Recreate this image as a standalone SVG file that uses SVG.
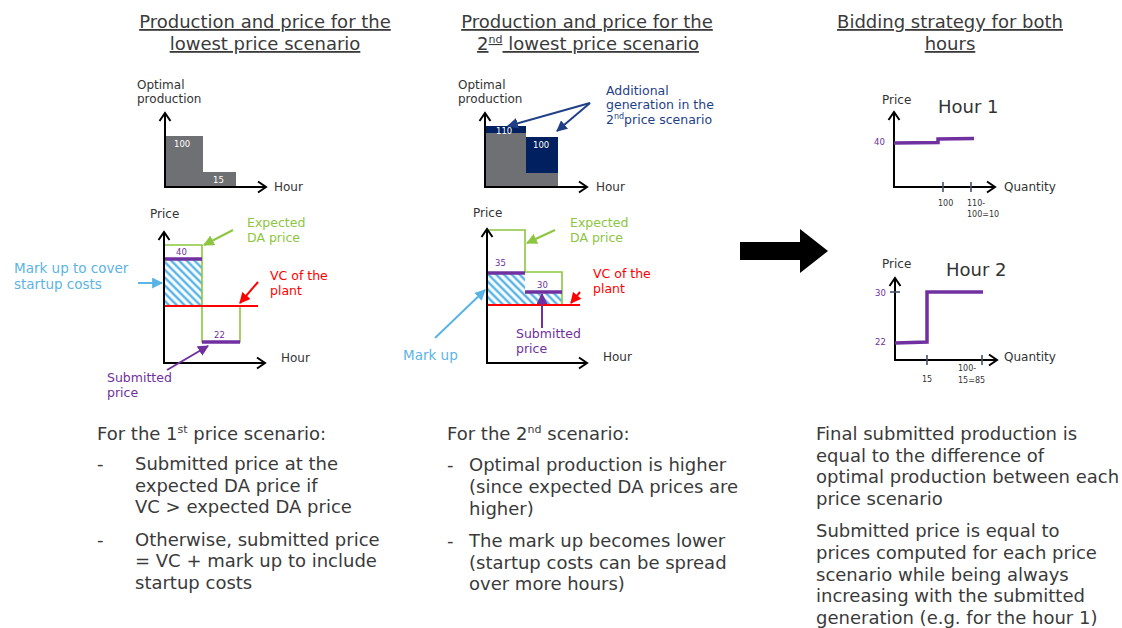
<svg xmlns="http://www.w3.org/2000/svg" width="1122" height="628" viewBox="0 0 1122 628">
<style>
text{font-family:"DejaVu Sans",Verdana,sans-serif}
.title{font-size:18px;fill:#3a3a3a;text-decoration:underline;text-anchor:middle}
.body{font-size:18px;fill:#3a3a3a}
.ax{font-size:12px;fill:#333}
.num{font-size:8.5px;fill:#fff}
.pnum{font-size:8.5px;fill:#7030a0}
.qnum{font-size:8px;fill:#333}
.hour{font-size:18px;fill:#333}
.axis{stroke:#000;stroke-width:2;fill:none;marker-end:url(#chev)}
.green{stroke:#8cc63f;stroke-width:1.6;fill:none}
.red{stroke:#ff0000;stroke-width:2;fill:none}
.purple{stroke:#7030a0;stroke-width:3.5;fill:none}
.tick{stroke:#44546a;stroke-width:1.6}
.gray{fill:#6f7073}
.navy{fill:#002060}
.c-green{stroke:#8cc63f;stroke-width:2;fill:none;marker-end:url(#ah-green)}
.c-red{stroke:#ff0000;stroke-width:2;fill:none;marker-end:url(#ah-red)}
.c-blue{stroke:#5bb4e6;stroke-width:2;fill:none;marker-end:url(#ah-blue)}
.c-purple{stroke:#7030a0;stroke-width:2;fill:none;marker-end:url(#ah-purple)}
.c-navy{stroke:#1f3f87;stroke-width:2;fill:none;marker-end:url(#ah-navy)}
.t-green{font-size:12.5px;fill:#8cc63f}
.t-red{font-size:12.5px;fill:#ff0000}
.t-blue{font-size:13.5px;fill:#5bb4e6}
.t-purple{font-size:12.5px;fill:#7030a0}
.t-navy{font-size:12.5px;fill:#1f3f87}
</style>
<defs>
<pattern id="hatch" patternUnits="userSpaceOnUse" width="5.5" height="5.5" patternTransform="rotate(45)">
<rect width="5.5" height="5.5" fill="#fff"/>
<line x1="0" y1="2.75" x2="5.5" y2="2.75" stroke="#5bb4e6" stroke-width="2.5"/>
</pattern>
<marker id="chev" viewBox="-10 -7 12 14" refX="0" refY="0" markerWidth="12" markerHeight="14" markerUnits="userSpaceOnUse" orient="auto">
<path d="M-8,-5.5 L0,0 L-8,5.5" fill="none" stroke="#000" stroke-width="2"/>
</marker>
<marker id="ah-green" viewBox="0 0 10 10" refX="9" refY="5" markerWidth="11" markerHeight="11" markerUnits="userSpaceOnUse" orient="auto"><path d="M0,0 L10,5 L0,10 z" fill="#8cc63f"/></marker>
<marker id="ah-red" viewBox="0 0 10 10" refX="9" refY="5" markerWidth="11" markerHeight="11" markerUnits="userSpaceOnUse" orient="auto"><path d="M0,0 L10,5 L0,10 z" fill="#ff0000"/></marker>
<marker id="ah-blue" viewBox="0 0 10 10" refX="9" refY="5" markerWidth="11" markerHeight="11" markerUnits="userSpaceOnUse" orient="auto"><path d="M0,0 L10,5 L0,10 z" fill="#5bb4e6"/></marker>
<marker id="ah-purple" viewBox="0 0 10 10" refX="9" refY="5" markerWidth="11" markerHeight="11" markerUnits="userSpaceOnUse" orient="auto"><path d="M0,0 L10,5 L0,10 z" fill="#7030a0"/></marker>
<marker id="ah-navy" viewBox="0 0 10 10" refX="9" refY="5" markerWidth="11" markerHeight="11" markerUnits="userSpaceOnUse" orient="auto"><path d="M0,0 L10,5 L0,10 z" fill="#1f3f87"/></marker>
</defs>
<rect width="1122" height="628" fill="#fff"/>

<g id="title-left">
<text class="title" x="265" y="28">Production and price for the</text>
<text class="title" x="265" y="50">lowest price scenario</text>
</g>
<g id="title-middle">
<text class="title" x="587" y="28">Production and price for the</text>
<text class="title" x="588" y="50">2<tspan font-size="11" dy="-7">nd</tspan><tspan dy="7"> lowest price scenario</tspan></text>
</g>
<g id="title-right">
<text class="title" x="950" y="28">Bidding strategy for both</text>
<text class="title" x="950" y="50">hours</text>
</g>

<g id="left-production-chart">
<rect class="gray" x="165" y="136" width="38" height="51"/>
<rect class="gray" x="203" y="172" width="33" height="15"/>
<text class="num" x="174" y="147">100</text>
<text class="num" x="213" y="183">15</text>
<path class="axis" d="M165,188 V113"/>
<path class="axis" d="M164,187 H266"/>
<text class="ax" x="137" y="89">Optimal</text>
<text class="ax" x="137" y="103">production</text>
<text class="ax" x="274" y="191">Hour</text>
</g>

<g id="left-price-chart">
<rect x="165" y="259" width="37" height="47" fill="url(#hatch)"/>
<polyline class="green" points="165,245 202,245 202,342 240,342 240,306"/>
<line class="red" x1="165" y1="306" x2="258" y2="306"/>
<line class="purple" x1="165" y1="259" x2="202" y2="259"/>
<line class="purple" x1="202" y1="342" x2="240" y2="342"/>
<text class="pnum" x="176" y="255">40</text>
<text class="pnum" x="214" y="338">22</text>
<path class="axis" d="M164,364 V232"/>
<path class="axis" d="M163,363 H265"/>
<text class="ax" x="150" y="218">Price</text>
<text class="ax" x="281" y="362">Hour</text>
</g>
<g id="label-expected-da-left">
<text class="t-green" x="247" y="227">Expected</text>
<text class="t-green" x="247" y="242">DA price</text>
</g>
<g id="label-vc-left">
<text class="t-red" x="270" y="280">VC of the</text>
<text class="t-red" x="270" y="295">plant</text>
</g>
<g id="label-markup-left">
<text class="t-blue" x="14" y="273">Mark up to cover</text>
<text class="t-blue" x="14" y="289">startup costs</text>
</g>
<g id="label-submitted-left">
<text class="t-purple" x="107" y="382">Submitted</text>
<text class="t-purple" x="107" y="397">price</text>
</g>

<g id="middle-production-chart">
<rect class="gray" x="486" y="133" width="40" height="54"/>
<rect class="navy" x="486" y="126" width="40" height="7"/>
<rect class="navy" x="526" y="137" width="32" height="36"/>
<rect class="gray" x="526" y="173" width="32" height="14"/>
<text class="num" x="496" y="134">110</text>
<text class="num" x="533" y="148">100</text>
<path class="axis" d="M485,188 V113"/>
<path class="axis" d="M484,187 H587"/>
<text class="ax" x="458" y="89">Optimal</text>
<text class="ax" x="458" y="103">production</text>
<text class="ax" x="596" y="191">Hour</text>
</g>
<g id="label-additional">
<text class="t-navy" x="606" y="95">Additional</text>
<text class="t-navy" x="606" y="109">generation in  the</text>
<text class="t-navy" x="606" y="124">2<tspan font-size="8" dy="-5">nd</tspan><tspan dy="5">price scenario</tspan></text>
</g>

<g id="middle-price-chart">
<path d="M487,273 H525 V292 H562 V305 H487 Z" fill="url(#hatch)"/>
<polyline class="green" points="487,230 525,230 525,272 562,272 562,306"/>
<line class="red" x1="487" y1="305" x2="580" y2="305"/>
<line class="purple" x1="487" y1="273" x2="525" y2="273"/>
<line class="purple" x1="525" y1="292" x2="562" y2="292"/>
<text class="pnum" x="495" y="266">35</text>
<text class="pnum" x="537" y="288">30</text>
<path class="axis" d="M487,364 V229"/>
<path class="axis" d="M486,363 H587"/>
<text class="ax" x="473" y="217">Price</text>
<text class="ax" x="603" y="361">Hour</text>
</g>
<g id="label-expected-da-middle">
<text class="t-green" x="570" y="227">Expected</text>
<text class="t-green" x="570" y="242">DA price</text>
</g>
<g id="label-vc-middle">
<text class="t-red" x="593" y="278">VC of the</text>
<text class="t-red" x="593" y="293">plant</text>
</g>
<g id="label-submitted-middle">
<text class="t-purple" x="516" y="338">Submitted</text>
<text class="t-purple" x="516" y="353">price</text>
</g>
<g id="label-markup-middle">
<text class="t-blue" x="403" y="360">Mark up</text>
</g>

<g id="big-arrow">
<polygon points="740,242 800,242 800,229 828,251 800,273 800,260 740,260" fill="#000"/>
</g>

<g id="hour1-chart">
<text class="ax" x="882" y="104">Price</text>
<text class="hour" x="938" y="113">Hour 1</text>
<path class="axis" d="M894,188 V112"/>
<path class="axis" d="M893,187 H995"/>
<line class="tick" x1="943" y1="182" x2="943" y2="192"/>
<line class="tick" x1="971" y1="182" x2="971" y2="192"/>
<polyline class="purple" points="894,143 938,142.5 938,139 974,138.5"/>
<text class="pnum" x="874" y="145">40</text>
<text class="ax" x="1004" y="191">Quantity</text>
<text class="qnum" x="938" y="206">100</text>
<text class="qnum" x="967" y="206">110-</text>
<text class="qnum" x="967" y="217">100=10</text>
</g>

<g id="hour2-chart">
<text class="ax" x="882" y="268">Price</text>
<text class="hour" x="946" y="276">Hour 2</text>
<path class="axis" d="M895,361 V278"/>
<path class="axis" d="M894,360 H997"/>
<line class="tick" x1="890" y1="292" x2="900" y2="292"/>
<line class="tick" x1="927" y1="355" x2="927" y2="365"/>
<line class="tick" x1="982" y1="355" x2="982" y2="365"/>
<polyline class="purple" points="895,343 927,342 927,292 983,292"/>
<text class="pnum" x="875" y="296">30</text>
<text class="pnum" x="875" y="345">22</text>
<text class="ax" x="1004" y="361">Quantity</text>
<text class="qnum" x="922" y="382">15</text>
<text class="qnum" x="958" y="371">100-</text>
<text class="qnum" x="958" y="383">15=85</text>
</g>

<g id="text-left">
<text class="body" x="97" y="440">For the 1<tspan font-size="11" dy="-7">st</tspan><tspan dy="7"> price scenario:</tspan></text>
<text class="body" x="97" y="470">-</text>
<text class="body" x="135" y="470">Submitted price at the</text>
<text class="body" x="135" y="492">expected DA price if</text>
<text class="body" x="135" y="513">VC &gt; expected DA price</text>
<text class="body" x="97" y="546">-</text>
<text class="body" x="135" y="546">Otherwise, submitted price</text>
<text class="body" x="135" y="567">= VC + mark up to include</text>
<text class="body" x="135" y="589">startup costs</text>
</g>

<g id="text-middle">
<text class="body" x="447" y="440">For the 2<tspan font-size="11" dy="-7">nd</tspan><tspan dy="7"> scenario:</tspan></text>
<text class="body" x="447" y="471">-</text>
<text class="body" x="469" y="471">Optimal production is higher</text>
<text class="body" x="469" y="493">(since expected DA prices are</text>
<text class="body" x="469" y="515">higher)</text>
<text class="body" x="447" y="547">-</text>
<text class="body" x="469" y="547">The mark up becomes lower</text>
<text class="body" x="469" y="569">(startup costs can be spread</text>
<text class="body" x="469" y="590">over more hours)</text>
</g>

<g id="text-right">
<text class="body" x="816" y="440">Final submitted production is</text>
<text class="body" x="816" y="462">equal to the difference of</text>
<text class="body" x="816" y="483">optimal production between each</text>
<text class="body" x="816" y="505">price scenario</text>
<text class="body" x="816" y="537">Submitted price is equal to</text>
<text class="body" x="816" y="559">prices computed for each price</text>
<text class="body" x="816" y="581">scenario while being always</text>
<text class="body" x="816" y="602">increasing with the submitted</text>
<text class="body" x="816" y="624">generation (e.g. for the hour 1)</text>
</g>

<g id="connectors">
<line class="c-green" x1="233" y1="230" x2="204" y2="245"/>
<line class="c-red" x1="258" y1="282" x2="240" y2="303"/>
<line class="c-blue" x1="138" y1="283" x2="162" y2="283"/>
<line class="c-purple" x1="167" y1="370" x2="208" y2="346"/>
<line class="c-navy" x1="590" y1="103" x2="508" y2="126"/>
<line class="c-navy" x1="590" y1="103" x2="557" y2="131"/>
<line class="c-green" x1="555" y1="230" x2="527" y2="243"/>
<line class="c-red" x1="580" y1="292" x2="571" y2="303"/>
<line class="c-purple" x1="542" y1="328" x2="542" y2="294"/>
<line class="c-blue" x1="435" y1="338" x2="485" y2="290"/>
</g>
</svg>
